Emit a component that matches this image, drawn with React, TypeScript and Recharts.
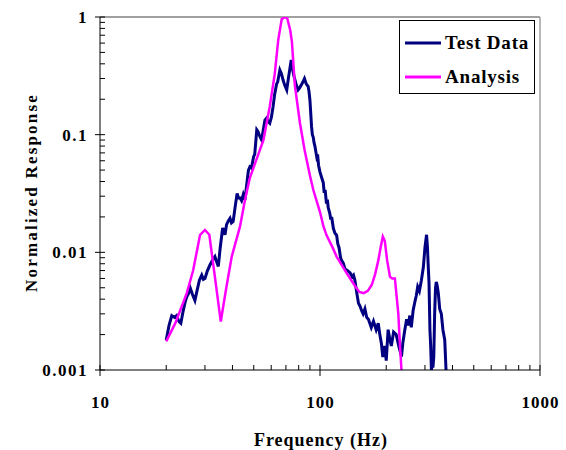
import React from 'react';
import { LineChart, Line, XAxis, YAxis, ReferenceLine, Legend } from 'recharts';

// Test Data (navy) frequency (Hz) and normalized response
const testFreq = [
  20, 20.6, 21.2, 21.8, 22.3, 22.8, 23.3, 23.9, 24.4, 24.8, 25.3, 25.7, 26.3, 27.0, 27.6, 28.3, 29.0, 29.5, 30.0,
  30.8, 31.6, 32.4, 33.3, 33.9, 34.5, 35.2, 36.1, 36.6, 37.0, 37.6, 38.3, 39.0, 39.6, 40.3, 41.1, 42.0, 42.6, 43.3,
  44.0, 44.8, 45.6, 46.3, 47.3, 48.0, 48.8, 49.9, 50.5, 51.6, 52.3, 53.1, 54.3, 55.0, 56.2, 57.1, 58.0, 59.1, 60.1,
  61.2, 62.2, 63.5, 64.2, 65.7, 66.8, 68.0, 69.3, 70.6, 72.0, 74.0, 75.0, 76.3, 77.8, 79.5, 80.8, 82.3, 83.6, 85.0,
  86.6, 88.4, 89.2, 90.0, 90.8, 91.5, 92.3, 93.2, 94.0, 94.8, 96.6, 97.5, 98.5, 100.0, 101.8, 103.5, 104.5, 105.5,
  107.0, 108.0, 109.0, 110.7, 112.0, 113.0, 115.0, 117.0, 119.0, 120.5, 122.0, 124.0, 125.5, 127.6, 130.0, 133.0,
  136.9, 140.0, 142.0, 144.0, 147.0, 149.6, 152.0, 154.5, 157.0, 160.0, 163.0, 166.0, 171.0, 175.0, 180.0, 184.0,
  187.0, 190.0, 193.0, 197.0, 200.0, 204.0, 208.0, 211.0, 216.0, 222.0, 228.0, 234.6, 238.0, 243.0, 247.6, 252.0,
  256.0, 260.0, 265.0, 270.0, 274.0, 278.0, 283.0, 289.0, 295.0, 300.0, 305.0, 308.0, 310.0, 313.0, 316.0, 318.5,
  321.0, 324.0, 326.0, 329.0, 332.0, 335.0, 337.7, 341.0, 345.0, 350.0, 356.0, 362.0, 369.0, 374.0,
];
const testResp = [
  0.0018, 0.0024, 0.0029, 0.0028, 0.0029, 0.0026, 0.0025, 0.0032, 0.0038, 0.0042, 0.0045, 0.005, 0.0044, 0.0039,
  0.0047, 0.0058, 0.0064, 0.0059, 0.006, 0.007, 0.0078, 0.0085, 0.0092, 0.0083, 0.0076, 0.011, 0.0161, 0.015,
  0.0141, 0.0172, 0.0185, 0.0195, 0.0178, 0.0183, 0.024, 0.0317, 0.029, 0.029, 0.0275, 0.031, 0.028, 0.036, 0.05,
  0.0533, 0.052, 0.065, 0.068, 0.11, 0.106, 0.098, 0.09, 0.105, 0.133, 0.138, 0.13, 0.125, 0.14, 0.173, 0.22, 0.27,
  0.28, 0.354, 0.33, 0.29, 0.26, 0.24, 0.31, 0.431, 0.36, 0.31, 0.27, 0.24, 0.25, 0.265, 0.28, 0.3, 0.27, 0.256,
  0.23, 0.197, 0.15, 0.118, 0.1, 0.095, 0.085, 0.08, 0.065, 0.068, 0.055, 0.048, 0.043, 0.039, 0.032, 0.034, 0.026,
  0.028, 0.024, 0.0216, 0.019, 0.02, 0.016, 0.0145, 0.014, 0.0118, 0.011, 0.009, 0.0085, 0.0081, 0.0072, 0.007,
  0.0067, 0.0062, 0.0064, 0.0058, 0.0045, 0.0037, 0.0035, 0.0032, 0.003, 0.0033, 0.0028, 0.0027, 0.0023, 0.0026,
  0.0022, 0.0025, 0.002, 0.0017, 0.00129, 0.0016, 0.0012, 0.0022, 0.0018, 0.0016, 0.0021, 0.002, 0.0016, 0.0013,
  0.0017, 0.0022, 0.0027, 0.0024, 0.0029, 0.0023, 0.0032, 0.0038, 0.0043, 0.0051, 0.0047, 0.0058, 0.0075, 0.011,
  0.0141, 0.011, 0.0081, 0.0055, 0.0022, 0.0016, 0.001, 0.00115, 0.00105, 0.0013, 0.003, 0.005, 0.0056, 0.0052,
  0.0045, 0.0033, 0.003, 0.0022, 0.0018, 0.001,
];

// Analysis (magenta) frequency (Hz) and normalized response
const anaFreq = [
  20, 22, 24.8, 26.5, 28.5, 30.0, 31.4, 33.0, 35.4, 37.5, 39.7, 43.3, 45.6, 48.0, 51.5, 55.3, 59.1, 62.3, 64.6,
  67.0, 69.4, 71.0, 73.2, 74.5, 76.9, 81.1, 85.1, 90.0, 93.2, 100.0, 103.7, 107.0, 114.6, 119, 132.6, 145, 151, 158,
  165, 172, 178, 184, 189, 193, 197, 202, 208, 213, 219, 227, 231, 234.6,
];
const anaResp = [
  0.00175, 0.0025, 0.0045, 0.007, 0.0141, 0.0155, 0.0141, 0.007, 0.00258, 0.005, 0.0092, 0.0166, 0.0278, 0.043,
  0.062, 0.09, 0.173, 0.33, 0.64, 0.96, 1.0, 0.97, 0.775, 0.62, 0.26, 0.125, 0.074, 0.045, 0.034, 0.022, 0.0166,
  0.014, 0.0108, 0.0092, 0.0066, 0.0051, 0.0046, 0.0045, 0.0047, 0.0053, 0.0065, 0.0085, 0.0112, 0.0136, 0.0125,
  0.0085, 0.0062, 0.006, 0.006, 0.003, 0.0016, 0.001,
];

const seriesNames = ['Test Data', 'Analysis'];

const xMajorTicks = [10, 100, 1000];
const xMinorTicks = [20, 30, 40, 50, 60, 70, 80, 90, 200, 300, 400, 500, 600, 700, 800, 900];
const yMajorTicks = [0.001, 0.01, 0.1, 1];
const yMinorTicks = [
  0.002, 0.003, 0.004, 0.005, 0.006, 0.007, 0.008, 0.009,
  0.02, 0.03, 0.04, 0.05, 0.06, 0.07, 0.08, 0.09,
  0.2, 0.3, 0.4, 0.5, 0.6, 0.7, 0.8, 0.9,
];

const testData = testFreq.map((f, i) => ({ f, v: testResp[i] }));
const anaData = anaFreq.map((f, i) => ({ f, v: anaResp[i] }));

const FONT = "'Liberation Serif', 'Times New Roman', serif";

const XTick = (props: any) => {
  const { x, y, payload } = props;
  const val = payload.value;
  const major = xMajorTicks.includes(val);
  return (
    <g>
      <line x1={x} x2={x} y1={y - 5} y2={major ? y + 6 : y} stroke="#000" strokeWidth={1} />
      {major && (
        <text x={x + 0.5} y={y + 38} textAnchor="middle" fontFamily={FONT} fontWeight="bold" fontSize={17} letterSpacing={1} fill="#000">
          {String(val)}
        </text>
      )}
    </g>
  );
};

const YTick = (props: any) => {
  const { x, y, payload } = props;
  const val = payload.value;
  const major = yMajorTicks.includes(val);
  return (
    <g>
      <line x1={major ? x - 5 : x} x2={x + 5} y1={y} y2={y} stroke="#000" strokeWidth={1} />
      {major && (
        <text x={x - 12} y={y + 6} textAnchor="end" fontFamily={FONT} fontWeight="bold" fontSize={17} letterSpacing={1.5} fill="#000">
          {String(val)}
        </text>
      )}
    </g>
  );
};

const LegendBox = (props: any) => {
  const payload = props.payload || [];
  const items = seriesNames
    .map((n) => payload.find((p: any) => p.value === n))
    .filter(Boolean);
  return (
    <div
      style={{
        position: 'relative',
        width: 134,
        height: 72,
        border: '1px solid #000',
        background: '#fff',
        fontFamily: FONT,
        fontWeight: 'bold',
        fontSize: 19,
        letterSpacing: 0.8,
        color: '#000',
        boxSizing: 'content-box',
      }}
    >
      {items.map((it: any, i: number) => (
        <div key={i} style={{ position: 'absolute', left: 5, top: i === 0 ? 11 : 45, display: 'flex', alignItems: 'center', lineHeight: '22px' }}>
          <svg width={36} height={6} style={{ display: 'block' }}>
            <line x1={0} x2={36} y1={3} y2={3} stroke={it.color} strokeWidth={3} />
          </svg>
          <span style={{ marginLeft: 4, whiteSpace: 'nowrap' }}>{it.value}</span>
        </div>
      ))}
    </div>
  );
};

export default function App() {
  return (
    <div style={{ position: 'absolute', left: 0, top: 0, width: 566, height: 450, background: '#fff' }}>
      <LineChart width={566} height={450} margin={{ top: 17, right: 26, bottom: 0, left: 0 }}>
        <XAxis
          dataKey="f"
          type="number"
          scale="log"
          domain={[10, 1000]}
          allowDataOverflow
          ticks={[...xMajorTicks, ...xMinorTicks].sort((a, b) => a - b)}
          interval={0}
          height={80}
          tickSize={0}
          tickMargin={0}
          tickLine={false}
          axisLine={{ stroke: '#000', strokeWidth: 1 }}
          tick={<XTick />}
          label={(p: any) => {
            const vb = p.viewBox || {};
            return (
              <text x={vb.x + vb.width / 2 + 1} y={vb.y + 76} textAnchor="middle" fontFamily={FONT} fontWeight="bold" fontSize={18} letterSpacing={1} fill="#000">
                Frequency (Hz)
              </text>
            );
          }}
        />
        <YAxis
          dataKey="v"
          type="number"
          scale="log"
          domain={[0.001, 1]}
          allowDataOverflow
          ticks={[...yMajorTicks, ...yMinorTicks].sort((a, b) => a - b)}
          interval={0}
          width={100}
          tickSize={0}
          tickMargin={0}
          tickLine={false}
          axisLine={{ stroke: '#000', strokeWidth: 1 }}
          tick={<YTick />}
          label={(p: any) => {
            const vb = p.viewBox || {};
            const cy = vb.y + vb.height / 2 - 1;
            return (
              <text x={31} y={cy} transform={`rotate(-90, 31, ${cy})`} textAnchor="middle" dominantBaseline="central" fontFamily={FONT} fontWeight="bold" fontSize={17} letterSpacing={2.2} fill="#000">
                Normalized Response
              </text>
            );
          }}
        />
        <ReferenceLine y={1} stroke="#808080" strokeWidth={1.5} />
        <ReferenceLine x={1000} stroke="#a0a0a0" strokeWidth={1.5} />
        <Legend
          layout="horizontal"
          verticalAlign="middle"
          align="center"
          content={<LegendBox />}
          wrapperStyle={{ left: 399, top: 20, width: 136, height: 74, right: 'auto', bottom: 'auto' }}
        />
        <Line
          data={testData}
          dataKey="v"
          name="Test Data"
          type="linear"
          stroke="#000080"
          strokeWidth={3}
          dot={false}
          activeDot={false}
          isAnimationActive={false}
        />
        <Line
          data={anaData}
          dataKey="v"
          name="Analysis"
          type="linear"
          stroke="#ff00ff"
          strokeWidth={2.5}
          dot={false}
          activeDot={false}
          isAnimationActive={false}
        />
      </LineChart>
    </div>
  );
}
